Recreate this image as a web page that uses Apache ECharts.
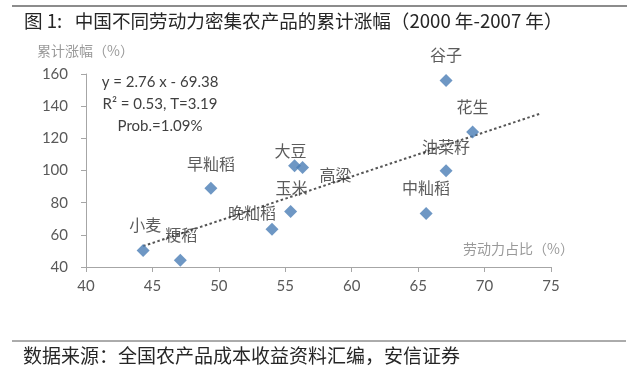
<!DOCTYPE html>
<html>
<head>
<meta charset="utf-8">
<script src="https://cdn.jsdelivr.net/npm/echarts@6/dist/echarts.min.js"></script>
<style>
html,body{margin:0;padding:0;background:#fff;}
#chart{width:640px;height:367px;}
</style>
</head>
<body>
<div id="chart"></div>
<script>
// Data
var names  = ['小麦', '粳稻', '早籼稻', '晚籼稻', '玉米', '大豆', '高粱', '谷子', '花生', '油菜籽', '中籼稻'];
var laborShare = [44.3, 47.1, 49.4, 54.0, 55.4, 55.7, 56.3, 67.1, 69.1, 67.1, 65.6];
var cumRise    = [50.2, 44.2, 89.0, 63.5, 74.5, 103.0, 101.8, 156.0, 124.0, 99.8, 73.3];
var trendX = [44.3, 74.2];
var trendY = [53.0, 135.4];
var xTicks = [40, 45, 50, 55, 60, 65, 70, 75];
var yTicks = [40, 60, 80, 100, 120, 140, 160];

// label placement (style, not data)
var labelOffsets = [[2,-26],[1,-25],[0,-24],[-20,-16],[1,-24],[-4,-15],[33,7],[0,-26],[0,-25],[0,-24],[0,-26]];

var chart = echarts.init(document.getElementById('chart'));
var pts = names.map(function(n, i){
  return {name: n, value: [laborShare[i], cumRise[i]], label: {offset: labelOffsets[i]}};
});
var trend = trendX.map(function(x, i){ return [x, trendY[i]]; });

var cjk = '"Noto Sans CJK SC", sans-serif';
var num = 'Lato, "Open Sans", sans-serif';

chart.setOption({
  animation: false,
  backgroundColor: '#fff',
  grid: {left: 86, right: 89, top: 74, bottom: 100, containLabel: false},
  xAxis: {
    type: 'value', min: xTicks[0], max: xTicks[xTicks.length-1], interval: 5,
    axisLine: {show: true, lineStyle: {color: '#A6A6A6', width: 1}},
    axisTick: {show: true, length: 5, lineStyle: {color: '#A6A6A6'}},
    splitLine: {show: false},
    axisLabel: {margin: 12, fontSize: 15, fontFamily: num, color: '#595959'}
  },
  yAxis: {
    type: 'value', min: yTicks[0], max: yTicks[yTicks.length-1], interval: 20,
    axisLine: {show: true, lineStyle: {color: '#A6A6A6', width: 1}},
    axisTick: {show: true, length: 5, lineStyle: {color: '#A6A6A6'}},
    splitLine: {show: false},
    axisLabel: {margin: 18, fontSize: 15, fontFamily: num, color: '#595959'}
  },
  graphic: [
    {type: 'line', shape: {x1: 12, y1: 6, x2: 627, y2: 6}, style: {stroke: '#8c8c8c', lineWidth: 2}},
    {type: 'text', left: 24, top: 12, style: {text: '图 1:   中国不同劳动力密集农产品的累计涨幅（2000 年-2007 年）', font: '18.6px "Noto Sans CJK SC"', fill: '#262626'}},
    {type: 'text', left: 37, top: 44, style: {text: '累计涨幅（%）', font: '14px "Noto Sans CJK SC"', fill: '#9a9a9a'}},
    {type: 'text', left: 463, top: 242, style: {text: '劳动力占比（%）', font: '14px "Noto Sans CJK SC"', fill: '#9a9a9a'}},
    {type: 'text', x: 160, y: 82, style: {text: 'y = 2.76 x - 69.38', font: '15px Lato', fill: '#404040', align: 'center', verticalAlign: 'middle'}},
    {type: 'text', x: 160, y: 104, style: {text: 'R² = 0.53, T=3.19', font: '15px Lato', fill: '#404040', align: 'center', verticalAlign: 'middle'}},
    {type: 'text', x: 160, y: 126, style: {text: 'Prob.=1.09%', font: '15px Lato', fill: '#404040', align: 'center', verticalAlign: 'middle'}},
    {type: 'line', shape: {x1: 12, y1: 341, x2: 626, y2: 341}, style: {stroke: '#595959', lineWidth: 1}},
    {type: 'text', left: 23, top: 346, style: {text: '数据来源：全国农产品成本收益资料汇编，安信证券', font: '19px "Noto Sans CJK SC"', fill: '#262626'}}
  ],
  series: [
    {
      type: 'line', data: trend, symbol: 'none', silent: true, z: 1,
      lineStyle: {color: '#555', width: 2, type: [2.5, 2.5]}
    },
    {
      type: 'scatter', data: pts, symbol: 'diamond', symbolSize: 13, z: 3,
      itemStyle: {color: '#4A7DB5'},
      label: {show: true, position: 'inside', formatter: '{b}', fontSize: 16, fontFamily: cjk, color: '#333'}
    }
  ]
});
</script>
</body>
</html>
